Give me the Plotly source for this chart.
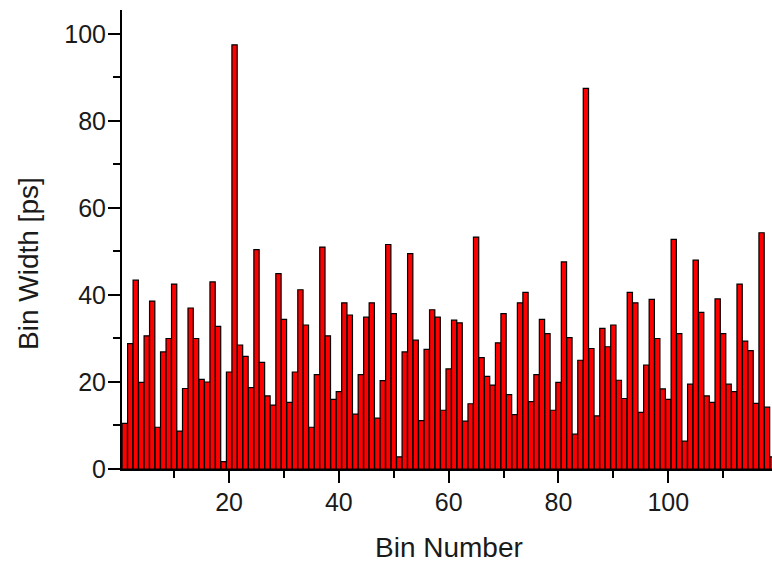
import plotly.graph_objects as go

bin_numbers = list(range(1, 120))
bin_widths_ps = [
    10.5, 28.8, 43.4, 19.9, 30.6, 38.6, 9.6, 26.9, 30.0, 42.5,
    8.7, 18.5, 37.0, 30.0, 20.6, 20.0, 43.0, 32.8, 1.7, 22.3,
    97.5, 28.5, 25.9, 18.7, 50.4, 24.5, 16.8, 14.7, 44.9, 34.4,
    15.3, 22.3, 41.2, 33.1, 9.6, 21.7, 51.0, 30.6, 16.0, 17.8,
    38.2, 35.4, 12.6, 21.7, 34.9, 38.2, 11.7, 20.3, 51.6, 35.7,
    2.8, 26.9, 49.5, 29.6, 11.1, 27.5, 36.6, 34.9, 13.5, 23.0,
    34.2, 33.6, 11.0, 15.0, 53.3, 25.6, 21.3, 19.3, 29.0, 35.7,
    17.1, 12.5, 38.2, 40.6, 15.5, 21.7, 34.4, 31.1, 13.5, 19.9,
    47.6, 30.2, 8.0, 25.0, 87.5, 27.7, 12.2, 32.3, 28.1, 33.1,
    20.4, 16.2, 40.6, 38.2, 13.0, 23.9, 39.0, 30.0, 18.4, 16.0,
    52.8, 31.1, 6.4, 19.5, 48.0, 36.0, 16.8, 15.3, 39.1, 31.1,
    19.5, 17.8, 42.5, 29.4, 27.2, 15.1, 54.3, 14.2, 2.8,
]
x_title = "Bin Number"
y_title = "Bin Width [ps]"

W, H = 772, 563
L, R, T, B = 122, 0, 10, 94
plot_h = H - T - B
plot_w = W - L - R

fig = go.Figure(
    go.Bar(
        x=bin_numbers,
        y=bin_widths_ps,
        marker=dict(color="#ff0000", line=dict(color="#000000", width=1.2)),
        hoverinfo="x+y",
    )
)

font_family = "Liberation Sans, Arial, Helvetica, sans-serif"
text_color = "#1a1a1a"

fig.update_layout(
    width=W,
    height=H,
    margin=dict(l=L, r=R, t=T, b=B, autoexpand=False),
    paper_bgcolor="white",
    plot_bgcolor="white",
    bargap=0.04,
    showlegend=False,
    font=dict(family=font_family, color=text_color),
)

fig.update_xaxes(
    automargin=False,
    range=[0.5, 118.9],
    tickmode="linear",
    tick0=0,
    dtick=20,
    ticks="outside",
    ticklen=12,
    tickwidth=2,
    tickcolor="black",
    ticklabelstandoff=-2,
    minor=dict(tickmode="linear", tick0=0, dtick=10, ticks="outside",
               ticklen=7, tickwidth=2, tickcolor="black"),
    showline=True,
    linecolor="black",
    linewidth=2,
    showgrid=False,
    zeroline=False,
    tickfont=dict(size=25, color=text_color),
)

fig.update_yaxes(
    automargin=False,
    range=[0, 105.5],
    tickmode="linear",
    tick0=0,
    dtick=20,
    ticks="outside",
    ticklen=12,
    tickwidth=2,
    tickcolor="black",
    ticklabelstandoff=-3,
    minor=dict(tickmode="linear", tick0=0, dtick=10, ticks="outside",
               ticklen=7, tickwidth=2, tickcolor="black"),
    showline=True,
    linecolor="black",
    linewidth=2,
    showgrid=False,
    zeroline=False,
    tickfont=dict(size=25, color=text_color),
)

# axis titles as annotations, positioned as in the reference
fig.add_annotation(
    text=y_title,
    textangle=-90,
    xref="paper",
    yref="paper",
    x=(28 - L) / plot_w,
    y=(H - B - 264) / plot_h,
    xanchor="center",
    yanchor="middle",
    showarrow=False,
    font=dict(size=28, color=text_color, family=font_family),
)
fig.add_annotation(
    text=x_title,
    xref="paper",
    yref="paper",
    x=(449 - L) / plot_w,
    y=(H - B - 547) / plot_h,
    xanchor="center",
    yanchor="middle",
    showarrow=False,
    font=dict(size=28, color=text_color, family=font_family),
)

# remove the default 8px page margin so the figure fills the 772x563 window exactly
fig.write_html(
    "out.html",
    config={"displayModeBar": False},
    post_script="document.body.style.margin='0';document.body.style.overflow='hidden';",
)
